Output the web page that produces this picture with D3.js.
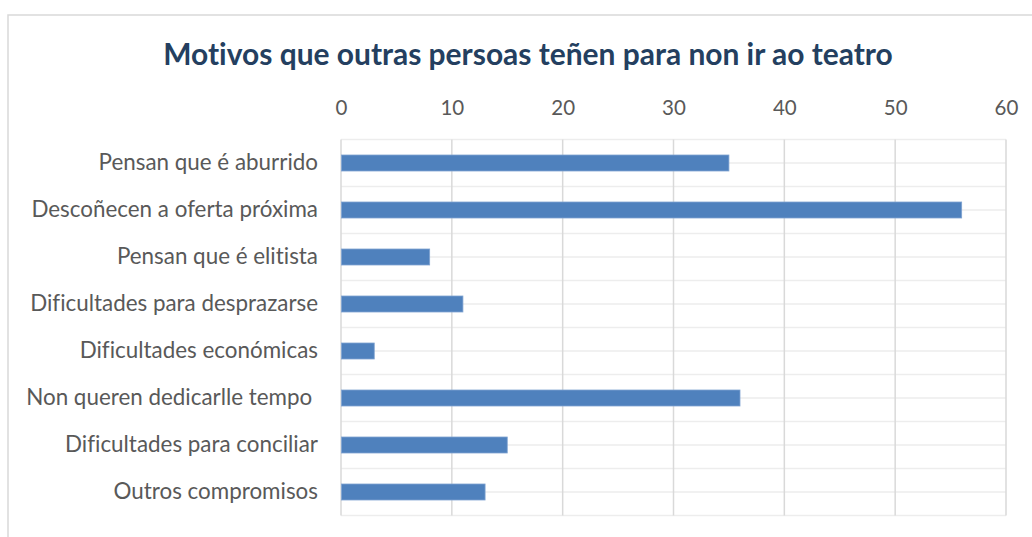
<!DOCTYPE html>
<html><head><meta charset="utf-8">
<script src="https://cdn.jsdelivr.net/npm/d3@7"></script>
<style>body{margin:0;background:#fff}svg{display:block}text{font-variant-ligatures:none}</style>
</head><body>
<svg id="c" width="1032" height="537"></svg>
<script>
const title = "Motivos que outras persoas teñen para non ir ao teatro";
const categories = ["Pensan que é aburrido","Descoñecen a oferta próxima","Pensan que é elitista","Dificultades para desprazarse","Dificultades económicas","Non queren dedicarlle tempo ","Dificultades para conciliar","Outros compromisos"];
const values = [35,56,8,11,3,36,15,13];
const ticks = [0,10,20,30,40,50,60];

const svg = d3.select("#c");
const m={left:341,right:1006,top:139.5,bottom:515.5};
const font = "Lato, 'Open Sans', sans-serif";

svg.append("rect").attr("x",8).attr("y",15).attr("width",1100).attr("height",600)
  .attr("fill","#fff").attr("stroke","#D9D9D9").attr("stroke-width",1.5);

const x=d3.scaleLinear().domain([0,60]).range([m.left,m.right]);
const y=d3.scaleBand().domain(categories).range([m.top,m.bottom]).paddingInner(0).paddingOuter(0);
const bw=y.bandwidth();

// horizontal grid (boundaries and centers)
const hLines=[];
categories.forEach(c=>{hLines.push(y(c));hLines.push(y(c)+bw/2);});
hLines.push(m.bottom);
svg.append("g").selectAll("line").data(hLines).join("line")
  .attr("x1",m.left).attr("x2",m.right).attr("y1",d=>d).attr("y2",d=>d)
  .attr("stroke","#EDEDED").attr("stroke-width",1.5);

// vertical grid
svg.append("g").selectAll("line").data(ticks).join("line")
  .attr("x1",d=>x(d)).attr("x2",d=>x(d)).attr("y1",m.top).attr("y2",m.bottom)
  .attr("stroke","#D9D9D9").attr("stroke-width",1.5);

// bars
const barH=16;
svg.append("g").selectAll("rect").data(values).join("rect")
  .attr("x",x(0)+0.5).attr("y",(d,i)=>y(categories[i])+bw/2-barH/2)
  .attr("width",d=>x(d)-x(0)-0.5).attr("height",barH)
  .attr("fill","#4F81BD").attr("stroke","#7FA3D1").attr("stroke-width",0.8);

// top axis
const ax=d3.axisTop(x).tickValues(ticks).tickSize(0).tickPadding(0);
const gA=svg.append("g").attr("transform","translate(0,115)").call(ax);
gA.select(".domain").remove();
gA.selectAll("text").attr("font-family",font).attr("font-size",20.5).attr("fill","#595959").attr("dy",0);

// category labels
const yA=d3.axisLeft(y).tickSize(0).tickPadding(23);
const gY=svg.append("g").attr("transform",`translate(${m.left},0)`).call(yA);
gY.select(".domain").remove();
gY.selectAll("text").attr("font-family",font).attr("font-size",22.4).attr("fill","#595959")
  .style("white-space","pre").attr("xml:space","preserve");

// title
const t=svg.append("text").attr("x",528).attr("y",65).attr("text-anchor","middle")
  .attr("font-family",font).attr("font-weight","bold").attr("font-size",28).attr("fill","#243F60").text(title);
const tw=t.node().getComputedTextLength();
t.attr("font-size",28*730/tw);
</script>
</body></html>
